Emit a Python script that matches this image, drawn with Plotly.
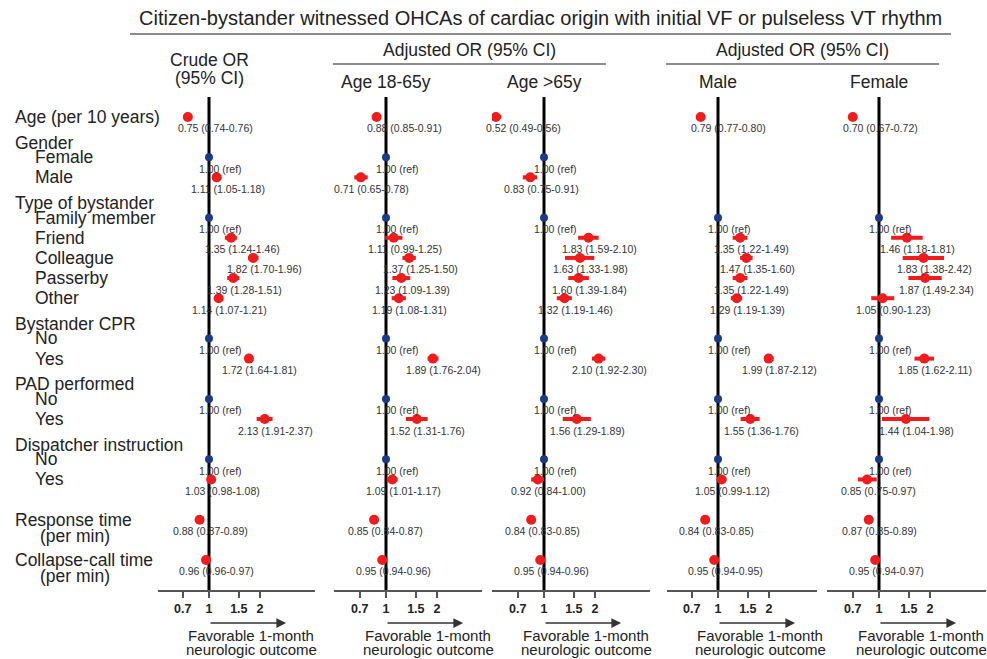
import math
import plotly.graph_objects as go

# ---------------- data ----------------
TITLE = "Citizen-bystander witnessed OHCAs of cardiac origin with initial VF or pulseless VT rhythm"

# row structure: (group header or None, items)
GROUPS = [
    (None, ["Age (per 10 years)"]),
    ("Gender", ["Female", "Male"]),
    ("Type of bystander", ["Family member", "Friend", "Colleague", "Passerby", "Other"]),
    ("Bystander CPR", ["No", "Yes"]),
    ("PAD performed", ["No", "Yes"]),
    ("Dispatcher instruction", ["No", "Yes"]),
    (None, ["Response time|(per min)"]),
    (None, ["Collapse-call time|(per min)"]),
]

PANEL_NAMES = ["Crude OR|(95% CI)", "Age 18-65y", "Age >65y", "Male", "Female"]

# order of 16 rows: Age, Female, Male, Family, Friend, Colleague, Passerby, Other,
# CPR No, CPR Yes, PAD No, PAD Yes, Disp No, Disp Yes, Response, Collapse
CRUDE_OR = [0.75, 1.00, 1.11, 1.00, 1.35, 1.82, 1.39, 1.14, 1.00, 1.72, 1.00, 2.13, 1.00, 1.03, 0.88, 0.96]
CRUDE_LO = [0.74, None, 1.05, None, 1.24, 1.70, 1.28, 1.07, None, 1.64, None, 1.91, None, 0.98, 0.87, 0.96]
CRUDE_HI = [0.76, None, 1.18, None, 1.46, 1.96, 1.51, 1.21, None, 1.81, None, 2.37, None, 1.08, 0.89, 0.97]

AGE1865_OR = [0.88, 1.00, 0.71, 1.00, 1.11, 1.37, 1.23, 1.19, 1.00, 1.89, 1.00, 1.52, 1.00, 1.09, 0.85, 0.95]
AGE1865_LO = [0.85, None, 0.65, None, 0.99, 1.25, 1.09, 1.08, None, 1.76, None, 1.31, None, 1.01, 0.84, 0.94]
AGE1865_HI = [0.91, None, 0.78, None, 1.25, 1.50, 1.39, 1.31, None, 2.04, None, 1.76, None, 1.17, 0.87, 0.96]

AGE65_OR = [0.52, 1.00, 0.83, 1.00, 1.83, 1.63, 1.60, 1.32, 1.00, 2.10, 1.00, 1.56, 1.00, 0.92, 0.84, 0.95]
AGE65_LO = [0.49, None, 0.75, None, 1.59, 1.33, 1.39, 1.19, None, 1.92, None, 1.29, None, 0.84, 0.83, 0.94]
AGE65_HI = [0.56, None, 0.91, None, 2.10, 1.98, 1.84, 1.46, None, 2.30, None, 1.89, None, 1.00, 0.85, 0.96]

MALE_OR = [0.79, None, None, 1.00, 1.35, 1.47, 1.35, 1.29, 1.00, 1.99, 1.00, 1.55, 1.00, 1.05, 0.84, 0.95]
MALE_LO = [0.77, None, None, None, 1.22, 1.35, 1.22, 1.19, None, 1.87, None, 1.36, None, 0.99, 0.83, 0.94]
MALE_HI = [0.80, None, None, None, 1.49, 1.60, 1.49, 1.39, None, 2.12, None, 1.76, None, 1.12, 0.85, 0.95]

FEMALE_OR = [0.70, None, None, 1.00, 1.46, 1.83, 1.87, 1.05, 1.00, 1.85, 1.00, 1.44, 1.00, 0.85, 0.87, 0.95]
FEMALE_LO = [0.67, None, None, None, 1.18, 1.38, 1.49, 0.90, None, 1.62, None, 1.04, None, 0.75, 0.85, 0.94]
FEMALE_HI = [0.72, None, None, None, 1.81, 2.42, 2.34, 1.23, None, 2.11, None, 1.98, None, 0.97, 0.89, 0.97]

TICK_VALS = [0.7, 1, 1.5, 2]
TICK_TEXT = ["0.7", "1", "1.5", "2"]
OUTCOME_TEXT = ["Favorable 1-month", "neurologic outcome"]

PANELS = [
    (CRUDE_OR, CRUDE_LO, CRUDE_HI),
    (AGE1865_OR, AGE1865_LO, AGE1865_HI),
    (AGE65_OR, AGE65_LO, AGE65_HI),
    (MALE_OR, MALE_LO, MALE_HI),
    (FEMALE_OR, FEMALE_LO, FEMALE_HI),
]

# ---------------- layout constants ----------------
W, H = 987, 659
RED = "#ee1c1c"
BLUE = "#1a3a8a"
FONT = "Liberation Sans, Arial, sans-serif"
TXT = "#222222"
PX_PER_DEC = 169.5
CENTER_PX = [209, 386, 544, 718, 879]
LEFT_PX = [158, 334, 492, 667, 827]
RIGHT_PX = [315, 482, 650, 817, 986]
Y_TOP_PX, Y_BOT_PX = 97, 590
ARROW_TIP_OR = 2.85

def py(px):
    return 1 - px / H

# build category slots
slots = []          # category ids
row_slot = []       # slot index of each data row
labels = []         # (slot, text, kind)
gap_n = 0
for header, items in GROUPS:
    if header is not None:
        labels.append((len(slots), header, "header"))
        slots.append("H:" + header)
        for it in items:
            labels.append((len(slots), it, "item"))
            row_slot.append(len(slots))
            slots.append(header + ":" + it)
    else:
        if slots:
            slots.append("_gap%d" % gap_n)
            gap_n += 1
        for it in items:
            labels.append((len(slots), it, "single"))
            row_slot.append(len(slots))
            slots.append(it)

fig = go.Figure()
annotations = []
shapes = []

for p, (ors, los, his) in enumerate(PANELS):
    xa = "x" if p == 0 else "x%d" % (p + 1)
    ey, ex, ep, em = [], [], [], []
    ry, rx = [], []
    for r, (o, lo, hi) in enumerate(zip(ors, los, his)):
        if o is None:
            continue
        if lo is None:
            ry.append(row_slot[r]); rx.append(o)
            txt = "%.2f (ref)" % o
        else:
            ey.append(row_slot[r]); ex.append(o); ep.append(hi - o); em.append(o - lo)
            txt = "%.2f (%.2f-%.2f)" % (o, lo, hi)
        annotations.append(dict(
            x=math.log10(o), y=row_slot[r], xref=xa, yref="y", text=txt,
            showarrow=False, xanchor="center", yanchor="middle",
            xshift=28 if r == 0 else 11, yshift=-11.5,
            font=dict(family=FONT, size=10.5, color="#333333")))
    fig.add_trace(go.Scatter(
        x=ex, y=[slots[s] for s in ey], xaxis=xa, yaxis="y", mode="markers",
        marker=dict(color=RED, size=10),
        error_x=dict(type="data", symmetric=False, array=ep, arrayminus=em,
                     thickness=4, width=0, color=RED),
        hoverinfo="skip"))
    fig.add_trace(go.Scatter(
        x=rx, y=[slots[s] for s in ry], xaxis=xa, yaxis="y", mode="markers",
        marker=dict(color=BLUE, size=8), hoverinfo="skip"))

    shapes.append(dict(type="line", xref=xa, yref="y domain", x0=1, x1=1, y0=0, y1=1,
                       line=dict(color="black", width=3), layer="below"))

    name_lines = PANEL_NAMES[p].split("|")
    if len(name_lines) == 2:
        for k, t in enumerate(name_lines):
            annotations.append(dict(x=0, y=py(60 + 18 * k), xref=xa, yref="paper", text=t,
                                    showarrow=False, xanchor="center", yanchor="middle",
                                    font=dict(family=FONT, size=17.5, color=TXT)))
    else:
        annotations.append(dict(x=0, y=py(82), xref=xa, yref="paper", text=name_lines[0],
                                showarrow=False, xanchor="center", yanchor="middle",
                                font=dict(family=FONT, size=17.5, color=TXT)))

    annotations.append(dict(x=math.log10(ARROW_TIP_OR), y=py(623), xref=xa, yref="paper", text="",
                            showarrow=True, axref="pixel", ayref="pixel",
                            ax=-math.log10(ARROW_TIP_OR) * PX_PER_DEC, ay=0,
                            arrowhead=2, arrowsize=1.3, arrowwidth=1.5, arrowcolor="#333333"))
    for k, t in enumerate(OUTCOME_TEXT):
        annotations.append(dict(x=0, y=py(635 + 14 * k), xref=xa, yref="paper", text=t,
                                showarrow=False, xanchor="center", yanchor="middle", xshift=42,
                                font=dict(family=FONT, size=15, color=TXT)))

    L, R, C = LEFT_PX[p], RIGHT_PX[p], CENTER_PX[p]
    axis_key = "xaxis" if p == 0 else "xaxis%d" % (p + 1)
    fig.update_layout(**{axis_key: dict(
        type="log", domain=[L / W, R / W],
        range=[(L - C) / PX_PER_DEC, (R - C) / PX_PER_DEC],
        anchor="y", showline=True, linecolor="#555555", linewidth=1.5,
        ticks="outside", ticklen=6, tickwidth=1.5, tickcolor="#555555",
        tickvals=TICK_VALS, ticktext=["<b>%s</b>" % t for t in TICK_TEXT],
        tickfont=dict(family=FONT, size=12.5, color=TXT),
        showgrid=False, zeroline=False, fixedrange=True)})

# row labels on the left
for s, text, kind in labels:
    parts = text.split("|")
    if kind == "header":
        annotations.append(dict(x=13 / W, y=s, xref="paper", yref="y", text=parts[0],
                                showarrow=False, xanchor="left", yanchor="middle", yshift=-5.5,
                                font=dict(family=FONT, size=17.5, color=TXT)))
    elif kind == "item":
        annotations.append(dict(x=33 / W, y=s, xref="paper", yref="y", text=parts[0],
                                showarrow=False, xanchor="left", yanchor="middle",
                                font=dict(family=FONT, size=17.5, color=TXT)))
    else:
        annotations.append(dict(x=13 / W, y=s, xref="paper", yref="y", text=parts[0],
                                showarrow=False, xanchor="left", yanchor="middle",
                                font=dict(family=FONT, size=17.5, color=TXT)))
        if len(parts) > 1:
            annotations.append(dict(x=38 / W, y=s, xref="paper", yref="y", text=parts[1],
                                    showarrow=False, xanchor="left", yanchor="middle", yshift=-16,
                                    font=dict(family=FONT, size=17.5, color=TXT)))

# title & group headers
annotations.append(dict(x=540 / W, y=py(18), xref="paper", yref="paper", text=TITLE,
                        showarrow=False, xanchor="center", yanchor="middle",
                        font=dict(family=FONT, size=20, color=TXT)))
for cx in (469, 802):
    annotations.append(dict(x=cx / W, y=py(50), xref="paper", yref="paper",
                            text="Adjusted OR (95% CI)", showarrow=False,
                            xanchor="center", yanchor="middle",
                            font=dict(family=FONT, size=17.5, color=TXT)))
for x0, x1, yy in ((130, 951, 34), (333, 606, 64), (666, 939, 64)):
    shapes.append(dict(type="line", xref="paper", yref="paper", x0=x0 / W, x1=x1 / W,
                       y0=py(yy), y1=py(yy), line=dict(color="#666666", width=1.5)))

fig.update_layout(
    width=W, height=H, margin=dict(l=0, r=0, t=0, b=0),
    paper_bgcolor="white", plot_bgcolor="white", showlegend=False,
    yaxis=dict(domain=[py(Y_BOT_PX), py(Y_TOP_PX)], type="category",
               categoryorder="array", categoryarray=slots,
               range=[23.49, -0.99], visible=False, fixedrange=True, anchor="x"),
    annotations=annotations, shapes=shapes,
)

fig.write_html("out.html", config={"displayModeBar": False},
               post_script="document.body.style.margin='0px';")
